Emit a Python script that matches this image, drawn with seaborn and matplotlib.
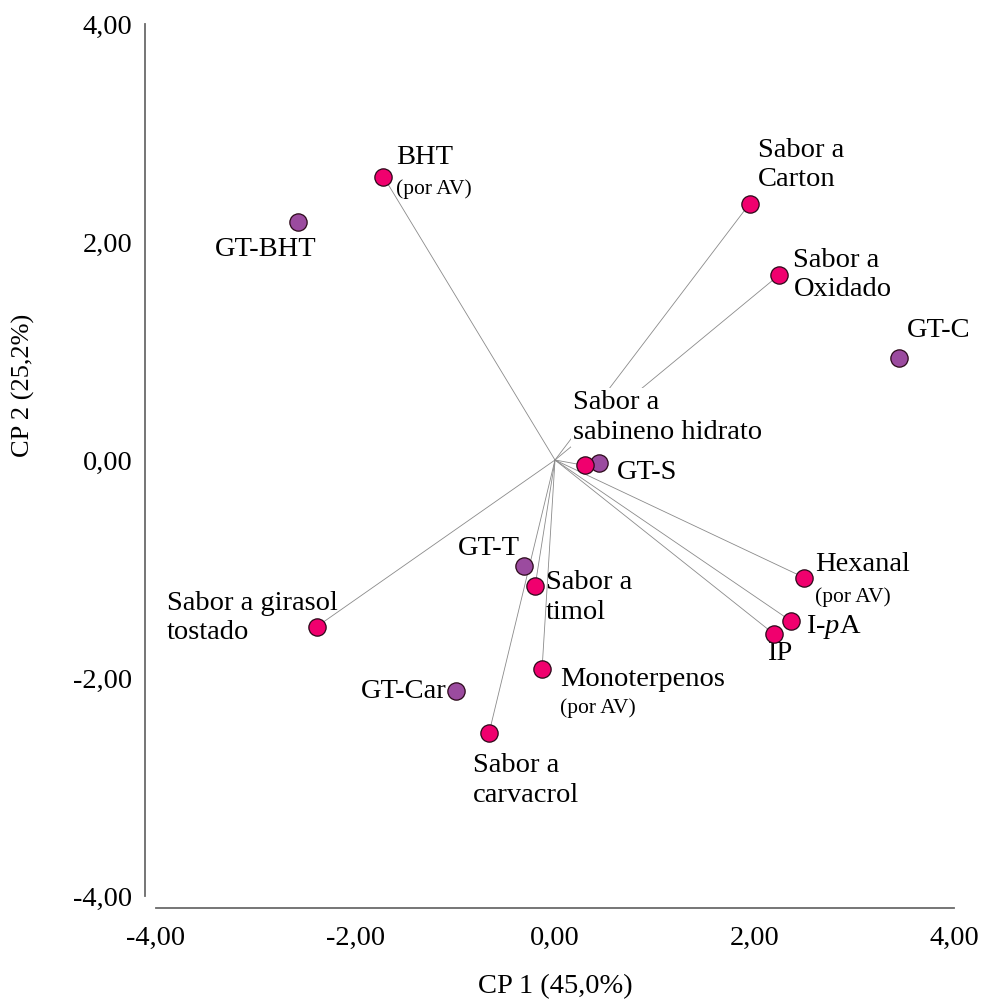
import matplotlib
matplotlib.use("Agg")
import matplotlib.pyplot as plt
import seaborn as sns
import pandas as pd
from matplotlib.ticker import FuncFormatter, FixedLocator

# ---------------- data ----------------
var_names = ["BHT", "Sabor a\nCarton", "Sabor a\nOxidado", "Sabor a\nsabineno hidrato",
             "Hexanal", "I-$\\it{p}$A", "IP", "Sabor a girasol\ntostado",
             "Sabor a\ntimol", "Sabor a\ncarvacrol", "Monoterpenos"]
var_x = [-1.72, 1.95, 2.25, 0.30, 2.50, 2.37, 2.20, -2.39, -0.20, -0.66, -0.13]
var_y = [2.60, 2.35, 1.70, -0.05, -1.08, -1.48, -1.60, -1.53, -1.16, -2.50, -1.92]
var_notes = ["(por AV)", "", "", "", "(por AV)", "", "", "", "", "", "(por AV)"]

sample_names = ["GT-BHT", "GT-C", "GT-S", "GT-T", "GT-Car"]
sample_x = [-2.58, 3.45, 0.44, -0.31, -0.99]
sample_y = [2.18, 0.94, -0.03, -0.97, -2.12]

tick_values = [-4, -2, 0, 2, 4]
x_label = "CP 1 (45,0%)"
y_label = "CP 2 (25,2%)"

# ---------------- layout (pixel offsets from each point) ----------------
var_layout = [  # dx, dy (down positive), ha
    (13, -19, "left"), (8, -39, "left"), (14, 0, "left"), (-12, -48, "left"),
    (11, -13, "left"), (15, 6, "left"), (-7, 19, "left"), (21, -9, "right"),
    (11, 11, "left"), (-16, 48, "left"), (18, 10, "left")]
note_layout = [(13, 13), None, None, None, (11, 19), None, None, None, None, None, (18, 39)]
sample_layout = [(-32, 27, "center"), (8, -27, "left"), (18, 9, "left"),
                 (-4, -17, "right"), (-10, 0, "right")]

PINK = "#F0006E"
PURPLE = "#9B4B9F"
EDGE = "#2a0818"
SPINE = "#6a6a6a"
PX = 0.72  # points per pixel at dpi 100

sns.set_style("white")
plt.rcParams["font.family"] = ["Liberation Serif", "DejaVu Serif"]
plt.rcParams["text.color"] = "black"
plt.rcParams["axes.labelcolor"] = "black"
plt.rcParams["mathtext.fontset"] = "custom"
plt.rcParams["mathtext.rm"] = "Liberation Serif"
plt.rcParams["mathtext.it"] = "Liberation Serif:italic"

fig = plt.figure(figsize=(9.82, 9.99), dpi=100)
ax = fig.add_axes([156 / 982, 1 - 896 / 999, 798 / 982, 872 / 999])

# loading lines from origin
for vx, vy in zip(var_x, var_y):
    ax.plot([0, vx], [0, vy], color="#8a8a8a", lw=0.6, zorder=1)

df_var = pd.DataFrame({"x": var_x, "y": var_y})
df_s = pd.DataFrame({"x": sample_x, "y": sample_y})
sns.scatterplot(data=df_s, x="x", y="y", ax=ax, s=155, color=PURPLE,
                edgecolor=EDGE, linewidth=0.9, zorder=4)
sns.scatterplot(data=df_var, x="x", y="y", ax=ax, s=155, color=PINK,
                edgecolor=EDGE, linewidth=0.9, zorder=5)

FS = 20.5
for name, x, y, (dx, dy, ha), note, nl in zip(var_names, var_x, var_y, var_layout,
                                              var_notes, note_layout):
    kw = {}
    if "sabineno" in name:
        kw["bbox"] = dict(facecolor="white", edgecolor="none", pad=1.5)
    ax.annotate(name, (x, y), xytext=(dx * PX, -dy * PX), textcoords="offset points",
                ha=ha, va="center", multialignment="left", fontsize=FS,
                linespacing=1.22, color="black", zorder=3, **kw)
    if note:
        ax.annotate(note, (x, y), xytext=(nl[0] * PX, -nl[1] * PX),
                    textcoords="offset points", ha="left", va="center",
                    fontsize=15.5, color="black", zorder=3)

for name, x, y, (dx, dy, ha) in zip(sample_names, sample_x, sample_y, sample_layout):
    ax.annotate(name, (x, y), xytext=(dx * PX, -dy * PX), textcoords="offset points",
                ha=ha, va="center", fontsize=FS, color="black", zorder=3)

ax.set_xlim(-4, 4)
ax.set_ylim(-4, 4)
ax.xaxis.set_major_locator(FixedLocator(tick_values))
ax.yaxis.set_major_locator(FixedLocator(tick_values))
fmt = FuncFormatter(lambda v, p: f"{v:.2f}".replace(".", ","))
ax.xaxis.set_major_formatter(fmt)
ax.yaxis.set_major_formatter(fmt)

for s in ["top", "right"]:
    ax.spines[s].set_visible(False)
ax.spines["left"].set_position(("outward", 11 * PX))
ax.spines["bottom"].set_position(("outward", 12 * PX))
for s in ["left", "bottom"]:
    ax.spines[s].set_color(SPINE)
    ax.spines[s].set_linewidth(1.3)
ax.tick_params(axis="both", direction="out", length=5, width=1,
               color=SPINE, labelsize=FS, labelcolor="black", pad=4)
ax.tick_params(axis="x", pad=8)

ax.set_xlabel(x_label, fontsize=FS)
ax.set_ylabel(y_label, fontsize=19)
ax.xaxis.set_label_coords(0.5, -(987 - 896) / 872)
ax.yaxis.set_label_coords((23 - 156) / 798, (896 - 385) / 872)
ax.xaxis.label.set_va("center")
ax.yaxis.label.set_va("center")

fig.savefig("out.png", dpi=100, facecolor="white")
